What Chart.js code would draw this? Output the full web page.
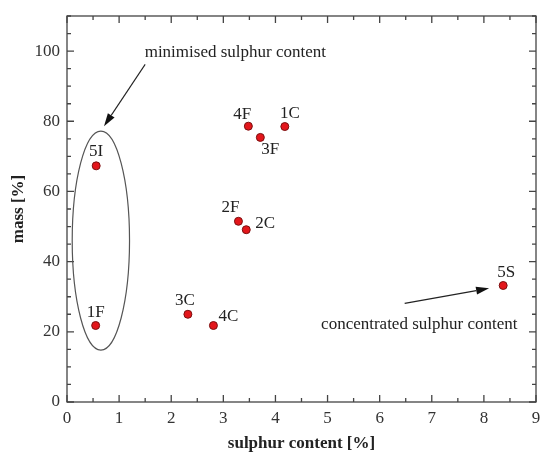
<!DOCTYPE html>
<html>
<head>
<meta charset="utf-8">
<script src="https://cdn.jsdelivr.net/npm/chart.js@4.4.0/dist/chart.umd.min.js"></script>
<style>
  html, body { margin: 0; padding: 0; background: #fff; }
  #wrap { width: 541px; height: 452px; }
</style>
</head>
<body>
<div id="wrap"><canvas id="sulphurChart" width="541" height="452"></canvas></div>
<script>
// samples
const sampleNames = ['1F', '5I', '4F', '1C', '3F', '2F', '2C', '3C', '4C', '5S'];
const sulphurValues = [0.55, 0.56, 3.48, 4.18, 3.71, 3.29, 3.44, 2.32, 2.81, 8.37];
const massValues = [21.8, 67.3, 78.6, 78.5, 75.4, 51.5, 49.1, 25.0, 21.8, 33.2];

// axis ticks
const xTicks = [0, 1, 2, 3, 4, 5, 6, 7, 8, 9];
const yTicks = [0, 20, 40, 60, 80, 100];

// annotation texts
const noteTexts = ['minimised sulphur content', 'concentrated sulphur content'];

const serif = '"Liberation Serif", "Times New Roman", serif';

// label offsets in pixels relative to each point (same order as sampleNames)
const labelOffsets = [[0, -13], [0, -14], [-6, -12], [5, -13], [10, 12],
                      [-8, -14], [19, -6], [-3, -14], [15, -9], [3, -13]];

const decorPlugin = {
    id: 'decor',
    afterDraw(chart) {
        const ctx = chart.ctx;
        const area = chart.chartArea;
        const xs = chart.scales.x;
        const ys = chart.scales.y;
        ctx.save();

        // frame
        ctx.strokeStyle = '#444';
        ctx.lineWidth = 1.3;
        ctx.strokeRect(area.left, area.top, area.right - area.left, area.bottom - area.top);

        // inward ticks on all four sides
        ctx.beginPath();
        for (let v = xs.min; v <= xs.max + 1e-9; v += 0.5) {
            const px = xs.getPixelForValue(v);
            const len = Math.abs(v - Math.round(v)) < 1e-9 ? 7 : 4;
            ctx.moveTo(px, area.bottom); ctx.lineTo(px, area.bottom - len);
            ctx.moveTo(px, area.top); ctx.lineTo(px, area.top + len);
        }
        for (let v = ys.min; v <= ys.max + 1e-9; v += 5) {
            const py = ys.getPixelForValue(v);
            const len = v % 20 === 0 ? 7 : 4;
            ctx.moveTo(area.left, py); ctx.lineTo(area.left + len, py);
            ctx.moveTo(area.right, py); ctx.lineTo(area.right - len, py);
        }
        ctx.stroke();

        // ellipse around low-sulphur samples
        ctx.strokeStyle = '#555';
        ctx.lineWidth = 1.2;
        const cx = xs.getPixelForValue(0.65);
        const cy = ys.getPixelForValue(46);
        const rx = xs.getPixelForValue(0.65 + 0.55) - cx;
        const ry = cy - ys.getPixelForValue(46 + 31.2);
        ctx.beginPath();
        ctx.ellipse(cx, cy, rx, ry, 0, 0, Math.PI * 2);
        ctx.stroke();

        // arrows
        function arrow(x1, y1, x2, y2) {
            const a = xs.getPixelForValue(x1), b = ys.getPixelForValue(y1);
            const c = xs.getPixelForValue(x2), d = ys.getPixelForValue(y2);
            const ang = Math.atan2(d - b, c - a);
            const head = 13, half = 4;
            ctx.strokeStyle = '#222';
            ctx.fillStyle = '#111';
            ctx.lineWidth = 1.1;
            ctx.beginPath();
            ctx.moveTo(a, b);
            ctx.lineTo(c - head * Math.cos(ang), d - head * Math.sin(ang));
            ctx.stroke();
            ctx.beginPath();
            ctx.moveTo(c, d);
            ctx.lineTo(c - head * Math.cos(ang) + half * Math.sin(ang), d - head * Math.sin(ang) - half * Math.cos(ang));
            ctx.lineTo(c - head * Math.cos(ang) - half * Math.sin(ang), d - head * Math.sin(ang) + half * Math.cos(ang));
            ctx.closePath();
            ctx.fill();
        }
        arrow(1.5, 96.2, 0.71, 78.6);
        arrow(6.48, 28.1, 8.1, 32.4);

        // annotation texts
        ctx.fillStyle = '#222';
        ctx.font = '17px ' + serif;
        ctx.textAlign = 'center';
        ctx.textBaseline = 'middle';
        ctx.fillText(noteTexts[0], xs.getPixelForValue(3.23), ys.getPixelForValue(99.7));
        ctx.fillText(noteTexts[1], xs.getPixelForValue(6.76), ys.getPixelForValue(22.2));

        // point labels
        const meta = chart.getDatasetMeta(0);
        ctx.font = '17px ' + serif;
        meta.data.forEach(function(pt, i) {
            const off = labelOffsets[i];
            ctx.fillText(sampleNames[i], pt.x + off[0], pt.y + off[1]);
        });
        ctx.restore();
    }
};

const ctx = document.getElementById('sulphurChart').getContext('2d');
new Chart(ctx, {
    type: 'scatter',
    data: {
        datasets: [{
            label: 'samples',
            data: sulphurValues.map((x, i) => ({ x: x, y: massValues[i] })),
            backgroundColor: '#e3161b',
            borderColor: '#7a1010',
            borderWidth: 1,
            pointRadius: 4,
            pointHoverRadius: 4
        }]
    },
    options: {
        responsive: false,
        animation: false,
        layout: { padding: { top: 16, right: 2, left: 0, bottom: 0 } },
        plugins: {
            legend: { display: false },
            tooltip: { enabled: false }
        },
        scales: {
            x: {
                type: 'linear',
                min: 0,
                max: 9,
                afterBuildTicks: function(scale) {
                    scale.ticks = xTicks.map(v => ({ value: v }));
                },
                afterFit: function(scale) {
                    scale.height = 50;
                    scale.paddingRight = 0;
                    scale.paddingLeft = 0;
                },
                grid: { display: false, drawTicks: false },
                border: { display: false },
                ticks: {
                    color: '#333',
                    font: { family: serif, size: 17 },
                    padding: 6,
                    maxRotation: 0
                },
                title: {
                    display: true,
                    text: 'sulphur content [%]',
                    color: '#222',
                    font: { family: serif, size: 17, weight: 'bold' },
                    padding: { top: 0, bottom: -2 }
                }
            },
            y: {
                type: 'linear',
                min: 0,
                max: 110,
                afterBuildTicks: function(scale) {
                    scale.ticks = yTicks.map(v => ({ value: v }));
                },
                afterFit: function(scale) {
                    scale.width = 67;
                    scale.paddingTop = 0;
                    scale.paddingBottom = 0;
                },
                grid: { display: false, drawTicks: false },
                border: { display: false },
                ticks: {
                    color: '#333',
                    font: { family: serif, size: 17 },
                    padding: 7
                },
                title: {
                    display: true,
                    text: 'mass [%]',
                    color: '#222',
                    font: { family: serif, size: 17, weight: 'bold' },
                    padding: { top: 8, bottom: 0 }
                }
            }
        }
    },
    plugins: [decorPlugin]
});
</script>
</body>
</html>
